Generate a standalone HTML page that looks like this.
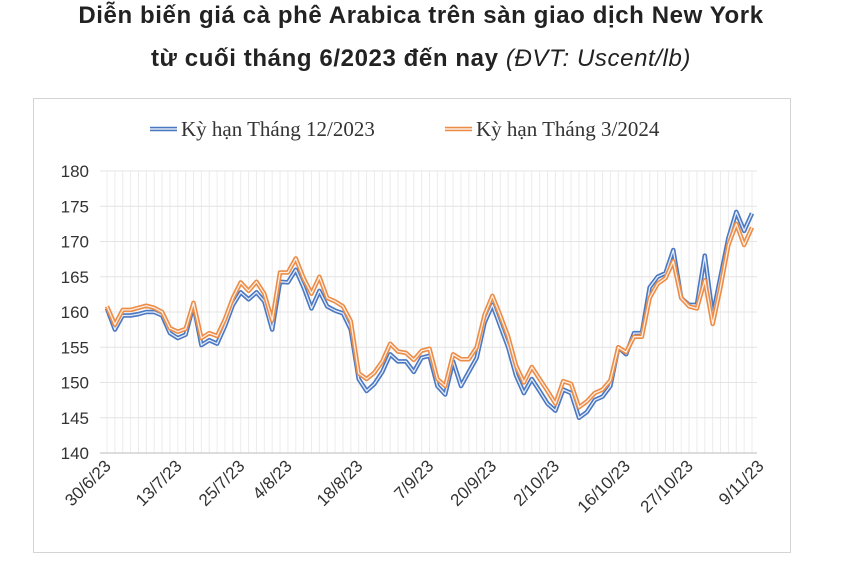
<!DOCTYPE html>
<html><head><meta charset="utf-8"><style>
body{margin:0;width:842px;height:569px;background:#fff;overflow:hidden;font-family:"Liberation Sans",sans-serif}
.t{position:absolute;left:0;width:842px;text-align:center;font-weight:bold;font-size:24px;letter-spacing:0.6px;color:#222}
</style></head><body>
<div class="t" style="top:2px">Diễn biến giá cà phê Arabica trên sàn giao dịch New York</div>
<div class="t" style="top:45px">từ cuối tháng 6/2023 đến nay <span style="font-weight:normal;font-style:italic">(ĐVT: Uscent/lb)</span></div>
<svg id="c" width="842" height="569" style="position:absolute;left:0;top:0">
<rect x="33.5" y="98.5" width="757" height="454" fill="none" stroke="#d4d4d4"/>
</svg>
<script>
const categories=["30/6/23","13/7/23","25/7/23","4/8/23","18/8/23","7/9/23","20/9/23","2/10/23","16/10/23","27/10/23","9/11/23"];
const categoryIndex=[0,9,17,23,32,41,49,57,66,74,83];
const yTicks=[140,145,150,155,160,165,170,175,180];
const dec23=[160.5,157.5,159.5,159.5,159.7,160,160,159.5,157,156.3,156.8,161,155.3,156,155.5,158,161,162.8,161.8,162.8,161.5,157.5,164.3,164.2,166,163.5,160.5,163,160.8,160.2,159.8,157.5,150.5,148.8,149.8,151.5,154,153,153,151.5,153.5,153.8,149.5,148.3,153,149.5,151.5,153.5,158.5,161,158,155,151,148.5,150.5,148.8,147,146,149,148.5,145,145.8,147.5,148,149.5,155,154,157,157,163.5,165,165.5,168.8,162,161,161,168,159.5,165,170.5,174.2,171.5,174];
const mar24=[160.8,158.2,160.3,160.3,160.6,160.9,160.6,160,157.7,157.2,157.6,161.3,156.3,157,156.6,159,162,164.2,163,164.3,162.6,158.8,165.6,165.6,167.6,164.8,162.6,165,162,161.5,160.8,158.7,151.3,150.5,151.4,153,155.5,154.4,154.2,153.2,154.5,154.8,150.5,149.5,154,153.3,153.3,155,159.6,162.3,159.5,156.5,152.4,150,152.2,150.5,148.8,147,150.2,149.8,146.5,147.3,148.5,149,150.3,155,154.3,156.5,156.5,162,164,164.8,167.2,162,160.8,160.5,164.5,158.3,163.5,169.5,172.5,169.5,172];
const svg=document.getElementById('c');const NS='http://www.w3.org/2000/svg';
const X0=107,X1=752,Y0=453,Y1=171;
const n=dec23.length;
const xs=i=>X0+(X1-X0)*i/(n-1);
const ys=v=>Y0-(v-140)/(180-140)*(Y0-Y1);
function mk(t,a){const e=document.createElementNS(NS,t);for(const k in a)e.setAttribute(k,a[k]);svg.appendChild(e);return e;}
for(let i=0;i<n;i++){const g=mk('line',{x1:xs(i),x2:xs(i),y1:Y1,y2:Y0,stroke:'#ececec','stroke-width':1});

}
yTicks.forEach(v=>{const g=mk('line',{x1:100,x2:757,y1:ys(v),y2:ys(v),stroke:'#e4e4e4'});


const t=mk('text',{x:89,y:ys(v)+6,'text-anchor':'end','font-size':'17',fill:'#333'});t.textContent=v;

});
const ax=mk('line',{x1:100,x2:757,y1:Y0,y2:Y0,stroke:'#bbb'});


categories.forEach((c,k)=>{const x=xs(categoryIndex[k]),y=Y0+14;
const t=mk('text',{x:x+5,y:y,'text-anchor':'end','font-size':'17',fill:'#333',transform:`rotate(-45 ${x+5} ${y})`});t.textContent=c;

});
function series(d,col,name){const p=d.map((v,i)=>xs(i).toFixed(1)+','+ys(v).toFixed(1)).join(' ');
const a=mk('polyline',{points:p,fill:'none',stroke:col,'stroke-width':4.5,'stroke-linejoin':'round'});


const b=mk('polyline',{points:p,fill:'none',stroke:'#fff','stroke-width':1.3,'stroke-linejoin':'round','stroke-opacity':0.85});

}
series(dec23,'#4a78c2','series-dec-2023');
series(mar24,'#ec8c47','series-mar-2024');
function leg(x,col,label,name){const g=document.createElementNS(NS,'g');svg.appendChild(g);


[[col,4.5],['#fff',1.3]].forEach(([s,w])=>{const l=document.createElementNS(NS,'line');l.setAttribute('x1',x);l.setAttribute('x2',x+27);l.setAttribute('y1',129);l.setAttribute('y2',129);l.setAttribute('stroke',s);l.setAttribute('stroke-width',w);g.appendChild(l);});
const t=document.createElementNS(NS,'text');t.setAttribute('x',x+31);t.setAttribute('y',136);t.setAttribute('font-size','21');t.setAttribute('fill','#333');t.setAttribute('font-family','Liberation Serif, serif');t.textContent=label;g.appendChild(t);}
leg(150,'#4a78c2','Kỳ hạn Tháng 12/2023','legend-dec-2023');
leg(445,'#ec8c47','Kỳ hạn Tháng 3/2024','legend-mar-2024');
</script>
</body></html>
